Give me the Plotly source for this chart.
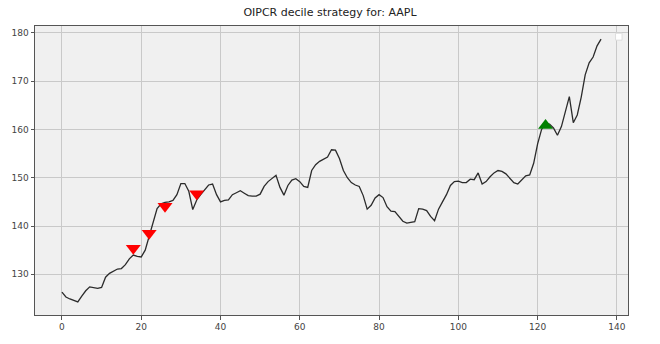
import plotly.graph_objects as go

# ---- data ----
close = [
    126.3, 125.3, 124.9, 124.6, 124.3, 125.5, 126.6, 127.4, 127.3, 127.1,
    127.3, 129.4, 130.2, 130.7, 131.1, 131.2, 132.0, 133.2, 134.0, 133.7,
    133.6, 135.0, 137.8, 140.9, 143.6, 144.6, 144.9, 145.0, 145.3, 146.5,
    148.8, 148.8, 147.2, 143.4, 145.4, 146.5, 147.6, 148.5, 148.7, 146.5,
    145.0, 145.3, 145.4, 146.5, 146.9, 147.3, 146.8, 146.3, 146.2, 146.2,
    146.6, 148.2, 149.2, 149.8, 150.5, 148.0, 146.4, 148.4, 149.5, 149.8,
    149.2, 148.2, 148.0, 151.5, 152.7, 153.4, 153.8, 154.3, 155.8, 155.7,
    154.0, 151.5, 150.0, 149.0, 148.5, 148.2, 146.3, 143.5, 144.3, 145.8,
    146.5, 145.9, 144.0, 143.1, 143.0, 142.0, 141.0, 140.6, 140.7, 140.9,
    143.6, 143.5, 143.2, 142.0, 141.1, 143.5, 145.0, 146.5, 148.4, 149.2,
    149.3, 149.0, 149.0, 149.7, 149.6, 151.0, 148.7, 149.2, 150.2, 151.0,
    151.5, 151.3, 150.8, 150.0, 149.0, 148.7, 149.5, 150.4, 150.6, 153.0,
    157.0, 160.0, 161.2, 161.1, 160.3, 158.8, 160.6, 163.9, 166.8, 161.4,
    163.0, 166.7, 171.3, 173.8, 175.0, 177.3, 178.7,
]
days = list(range(len(close)))

sell_days = [18, 22, 26, 34]
sell_prices = [135.4, 138.5, 144.1, 146.7]
buy_days = [122]
buy_prices = [160.8]

title_text = "OIPCR decile strategy for: AAPL"
x_ticks = [0, 20, 40, 60, 80, 100, 120, 140]
y_ticks = [130, 140, 150, 160, 170, 180]

# ---- figure ----
fig = go.Figure()
fig.add_trace(go.Scatter(
    x=days, y=close, mode="lines",
    line=dict(color="#2b2b2b", width=1.3), showlegend=False,
))
fig.add_trace(go.Scatter(
    x=sell_days, y=sell_prices, mode="markers",
    marker=dict(symbol="triangle-down", size=13, color="#ff0000", line=dict(width=0)),
    showlegend=False,
))
fig.add_trace(go.Scatter(
    x=buy_days, y=buy_prices, mode="markers",
    marker=dict(symbol="triangle-up", size=13, color="#008000", line=dict(width=0)),
    showlegend=False,
))

xmin, xmax = min(days), max(days)
ymin, ymax = min(close), max(close)
xpad = 0.05 * (xmax - xmin)
ypad = 0.05 * (ymax - ymin)

axis_common = dict(
    showgrid=True, gridcolor="#c9c9c9", gridwidth=1,
    showline=True, linecolor="#555555", linewidth=1, mirror=True,
    ticks="outside", ticklen=3.5, tickcolor="#555555", tickwidth=1,
    tickfont=dict(family="DejaVu Sans", size=9, color="#444444"),
    zeroline=False,
)

fig.update_layout(
    width=660, height=344,
    margin=dict(l=32, r=32, t=26, b=28),
    paper_bgcolor="white", plot_bgcolor="#f0f0f0",
    title=dict(text=title_text, x=0.5, xanchor="center", y=1 - 12.5 / 344, yanchor="middle",
               font=dict(family="DejaVu Sans", size=11, color="#222222")),
    xaxis=dict(range=[xmin - xpad, xmax + xpad], tickvals=x_ticks, **axis_common),
    yaxis=dict(range=[ymin - ypad, ymax + ypad], tickvals=y_ticks, **axis_common),
    shapes=[dict(type="rect", xref="paper", yref="paper",
                 x0=0.979, x1=0.990, y0=0.951, y1=0.975,
                 fillcolor="white", line=dict(color="#dddddd", width=1))],
)

fig.write_html("out.html")
